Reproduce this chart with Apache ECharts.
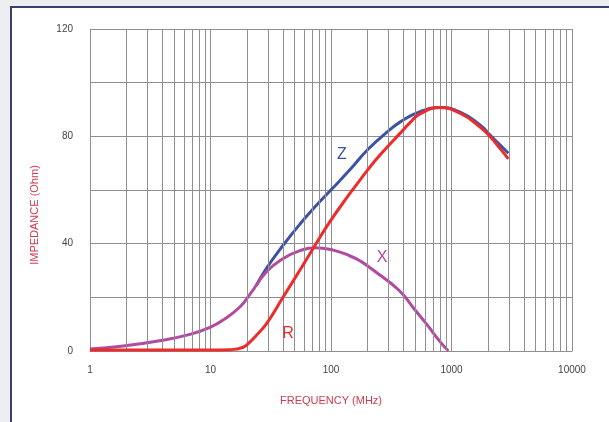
<!DOCTYPE html>
<html>
<head>
<meta charset="utf-8">
<script src="https://cdn.jsdelivr.net/npm/echarts@6/dist/echarts.min.js"></script>
<style>
html,body{margin:0;padding:0;background:#eceef2;width:609px;height:422px;overflow:hidden;}
#frame{position:absolute;left:10px;top:6px;width:640px;height:440px;background:#fff;border-left:2px solid #3a3f6b;border-top:2px solid #3a3f6b;}
#chart{position:absolute;left:0;top:0;width:609px;height:422px;}
</style>
</head>
<body>
<div id="frame"></div>
<div id="chart"></div>
<script>
// Data (frequency in MHz, impedance in Ohm)
const zFreq = [24, 29.3, 40.2, 55.3, 76.1, 98, 144, 204, 300, 374, 548, 803, 1177, 1725, 2088, 2524, 2963];
const zVals = [24.4, 31, 39.5, 47.3, 54.4, 59.6, 67.6, 75.3, 82, 85.3, 89.2, 90.7, 89, 84.2, 80.5, 76.8, 73.7];

const rFreq = [1, 5, 10, 14.5, 18.7, 21.3, 24.2, 29.3, 40.2, 55.3, 71.3, 98, 144, 174, 204, 255, 374, 455, 548, 803, 1177, 1725, 2088, 2524, 2963];
const rVals = [0.4, 0.4, 0.4, 0.5, 1.4, 3.4, 6, 10.3, 20.2, 30.2, 38.3, 48.2, 58.8, 63.7, 67.8, 73, 81.1, 85.2, 88.4, 90.7, 88.6, 83.5, 79.9, 75.5, 71.6];

const xFreq = [1, 1.89, 3.57, 6.76, 9.9, 12.8, 17.6, 21.3, 29.3, 40.2, 55.3, 73.5, 104, 144, 174, 204, 255, 327, 399, 478, 624, 803, 942];
const xVals = [0.75, 1.9, 3.6, 6.2, 8.8, 11.6, 16.5, 21.2, 29.6, 34.5, 37.4, 38.5, 37.6, 35.4, 33.6, 31.5, 28.3, 24.6, 20.9, 16.3, 9.9, 3.5, 0];

const yTicks = [0, 40, 80, 120];
const minorGridFreqs = [2,3,4,5,6,7,8,9,20,30,40,50,60,70,80,90,200,300,400,500,600,700,800,900,2000,3000,4000,5000,6000,7000,8000,9000];

const seriesLabels = [
  {text: 'Z', x: 342, y: 155, color: '#3c53a3'},
  {text: 'X', x: 382, y: 258, color: '#b14aa0'},
  {text: 'R', x: 288, y: 334, color: '#ee2b2b'}
];

const pairs = (f, v) => f.map((x, i) => [x, v[i]]);
const gridColor = '#8f8f8f';
const font = 'Liberation Sans, Arial, sans-serif';

const chart = echarts.init(document.getElementById('chart'), null, {renderer: 'canvas'});
chart.setOption({
  animation: false,
  backgroundColor: 'transparent',
  grid: {left: 90, right: 37, top: 29, bottom: 71, containLabel: false},
  xAxis: {
    type: 'log', logBase: 10, min: 1, max: 10000,
    axisLine: {show: true, lineStyle: {color: gridColor, width: 1}},
    axisTick: {show: false},
    splitLine: {show: true, lineStyle: {color: gridColor, width: 1}},
    axisLabel: {color: '#444', fontSize: 10, margin: 14, fontFamily: font,
      formatter: v => String(Math.round(v))},
    name: 'FREQUENCY (MHz)', nameLocation: 'middle', nameGap: 44,
    nameTextStyle: {color: '#cf3a50', fontSize: 11, fontFamily: font}
  },
  yAxis: {
    type: 'value', min: 0, max: 120, interval: 20,
    axisLine: {show: true, lineStyle: {color: gridColor, width: 1}},
    axisTick: {show: false},
    splitLine: {show: true, lineStyle: {color: gridColor, width: 1}},
    axisLabel: {
      color: '#444', fontSize: 10, margin: 17, padding: [0, 0, 6, 0],
      fontFamily: font,
      formatter: v => yTicks.includes(v) ? String(v) : ''
    }
  },
  graphic: [
    {
      type: 'text', x: 35, y: 215, rotation: Math.PI / 2,
      style: {text: 'IMPEDANCE (Ohm)', fill: '#cf3a50', font: '11px ' + font, align: 'center', verticalAlign: 'middle'}
    }
  ].concat(seriesLabels.map(l => ({
    type: 'text', x: l.x, y: l.y, z: 100,
    style: {text: l.text, fill: l.color, font: '16px ' + font, align: 'center', verticalAlign: 'middle'}
  }))),
  series: [
    {
      type: 'line', data: [], silent: true,
      markLine: {
        silent: true, symbol: ['none', 'none'],
        label: {show: false},
        lineStyle: {color: gridColor, width: 1, type: 'solid'},
        emphasis: {disabled: true},
        data: minorGridFreqs.map(f => ({xAxis: f}))
      },
      z: 1
    },
    {name: 'Z', type: 'line', data: pairs(zFreq, zVals), smooth: 0.5, showSymbol: false,
     lineStyle: {color: '#3c53a3', width: 3}, itemStyle: {color: '#3c53a3'}, z: 3},
    {name: 'X', type: 'line', data: pairs(xFreq, xVals), smooth: 0.5, showSymbol: false,
     lineStyle: {color: '#b14aa0', width: 3}, itemStyle: {color: '#b14aa0'}, z: 4},
    {name: 'R', type: 'line', data: pairs(rFreq, rVals), smooth: 0.5, showSymbol: false,
     lineStyle: {color: '#ee2b2b', width: 3}, itemStyle: {color: '#ee2b2b'}, z: 5}
  ]
});
</script>
</body>
</html>
